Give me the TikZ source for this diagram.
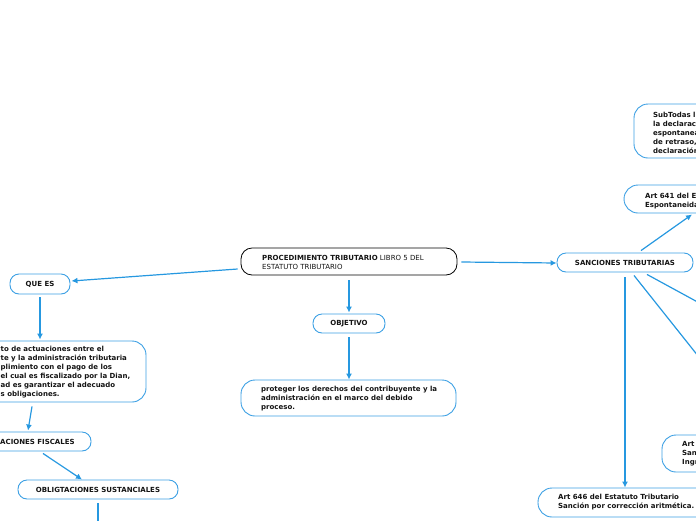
\documentclass[tikz,border=0pt]{standalone}
\usepackage{fontspec}
\setmainfont{DejaVu Sans}
\usetikzlibrary{arrows.meta,calc}
\definecolor{lineblue}{RGB}{38,152,224}
\definecolor{boxblue}{RGB}{60,160,228}
\definecolor{txt}{RGB}{20,20,20}
\tikzset{
  box/.style={draw=boxblue,line width=0.9pt,rounded corners=9pt,fill=white,inner sep=0pt,
    font=\fontsize{7}{9}\selectfont\bfseries,text=txt},
  bigbox/.style={box,rounded corners=14pt},
  mainbox/.style={draw=black,line width=0.8pt,rounded corners=11pt,fill=white,inner sep=0pt},
  label/.style={inner sep=0pt,align=left,anchor=west,font=\fontsize{7}{9}\selectfont\bfseries,text=txt},
  conn/.style={draw=lineblue,line width=1.2pt},
  arr/.style={conn,-{Latex[length=6pt,width=6pt]}}
}
\begin{document}
\begin{tikzpicture}[x=1pt,y=-1pt]
\useasboundingbox (0,0) rectangle (696,520);
\clip (0,0) rectangle (696,520);
% nodes
\node[mainbox,minimum width=216pt,minimum height=27pt] (central) at (349,261.5) {};
\node[label,font=\fontsize{7}{9}\selectfont] (centraltxt) at (262,262) {\textbf{PROCEDIMIENTO TRIBUTARIO} LIBRO 5 DEL\\ESTATUTO TRIBUTARIO};
\node[box,minimum width=60pt,minimum height=20pt] (qs) at (40,284) {QUE ES};
\node[bigbox,minimum width=206pt,minimum height=61pt] (big) at (43,371.5) {};
\node[label] (bigtxt) at (0.5,372) {to de actuaciones entre el\\te y la administración tributaria\\plimiento con el pago de los\\el cual es fiscalizado por la Dian,\\ad es garantizar el adecuado\\s obligaciones.};
\node[box,minimum width=120pt,minimum height=19pt] (fisc) at (31,441.5) {};
\node[label] (fisctxt) at (0,442) {ACIONES FISCALES};
\node[box,minimum width=160pt,minimum height=19pt] (oblig) at (98,489.5) {OBLIGTACIONES SUSTANCIALES};
\node[box,minimum width=72pt,minimum height=19pt] (obj) at (349,323.5) {OBJETIVO};
\node[bigbox,minimum width=215pt,minimum height=36pt] (prot) at (348.5,398) {};
\node[label] (prottxt) at (261,399) {proteger los derechos del contribuyente y la\\administración en el marco del debido\\proceso.};
\node[box,minimum width=136pt,minimum height=19pt] (sanc) at (625,262.5) {SANCIONES TRIBUTARIAS};
\node[bigbox,minimum width=126pt,minimum height=54pt] (sub) at (697,131) {};
\node[label] (subtxt) at (653,132.5) {SubTodas l\\la declarac\\espontanea\\de retraso,\\declaración};
\node[bigbox,minimum width=136pt,minimum height=28pt] (a641) at (692,199) {};
\node[label] (a641txt) at (645,201.5) {Art 641 del E\\Espontaneida};
\node[bigbox,minimum width=98pt,minimum height=37pt] (aR) at (711,453.5) {};
\node[label] (aRtxt) at (682,454) {Art\\San\\Ingr};
\node[bigbox,minimum width=222pt,minimum height=29pt] (a646) at (649,502.5) {};
\node[label] (a646txt) at (558,502.5) {Art 646 del Estatuto Tributario\\Sanción por corrección aritmética.};
\coordinate (offA) at (98,530);
\coordinate (offB) at (760,336);
% connectors
\draw[arr] ($(central.west)+(-3,7.5)$) -- ($(qs.east)+(1,-3)$);
\draw[arr] ($(central.south)+(0,5)$) -- ($(obj.north)+(0,-1)$);
\draw[arr] ($(central.east)+(4,0.5)$) -- ($(sanc.west)+(0,0.5)$);
\draw[arr] ($(qs.south)+(0,3)$) -- ($(big.north)+(-3,-1)$);
\draw[arr] ($(big.south)+(-11,4)$) -- ($(fisc.north)+(-3,-1)$);
\draw[arr] ($(fisc.south)+(12,2)$) -- ($(oblig.north)+(-16,0)$);
\draw[conn] ($(oblig.south)+(0,4)$) -- (offA);
\draw[arr] ($(obj.south)+(0,4)$) -- ($(prot.north)+(0.5,0)$);
\draw[arr] ($(sanc.north)+(16,-2)$) -- ($(a641.south)+(0,1)$);
\draw[conn] ($(sanc.south)+(9,3)$) -- ($(aR.north)+(44,-7)$);
\draw[conn] ($(sanc.south)+(22,2)$) -- (offB);
\draw[arr] ($(sanc.south)+(0,5)$) -- ($(a646.north)+(-24,0)$);
\end{tikzpicture}
\end{document}
